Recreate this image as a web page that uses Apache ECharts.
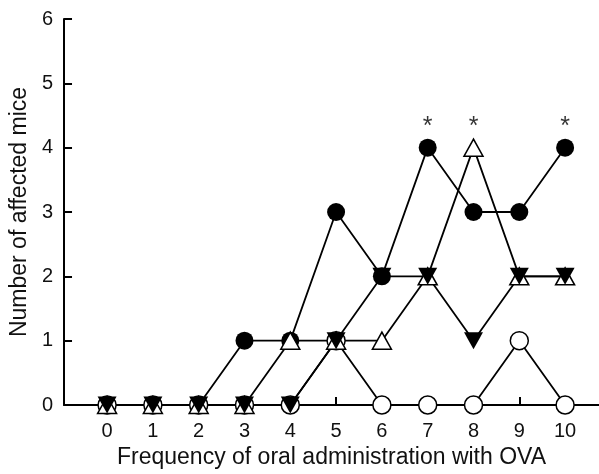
<!DOCTYPE html>
<html>
<head>
<meta charset="utf-8">
<script src="https://cdn.jsdelivr.net/npm/echarts@6/dist/echarts.min.js"></script>
<style>html,body{margin:0;padding:0;background:#fff;}#c{width:599px;height:474px;}</style>
</head>
<body>
<div id="c"></div>
<script>
var categories = [0, 1, 2, 3, 4, 5, 6, 7, 8, 9, 10];
var filledCircle = [0, 0, 0, 1, 1, 3, 2, 4, 3, 3, 4];
var openCircle = [0, 0, 0, 0, 0, 1, 0, 0, 0, 1, 0];
var openTriangle = [0, 0, 0, 0, 1, 1, 1, 2, 4, 2, 2];
var filledInvTriangle = [0, 0, 0, 0, 0, 1, 2, 2, 1, 2, 2];
var yTicks = [0, 1, 2, 3, 4, 5, 6];
var asteriskX = [7, 8, 10];
var asteriskY = 4.4;

function pairs(vals) { return categories.map(function (c, i) { return [c, vals[i]]; }); }

var font = 'Liberation Sans, Arial, sans-serif';
var chart = echarts.init(document.getElementById('c'), null, { renderer: 'canvas' });

function lineSeries(vals, symbol, fill, rotate) {
  return {
    type: 'line',
    data: pairs(vals),
    symbol: symbol,
    symbolSize: symbol === 'triangle' ? [19, 17] : 18,
    symbolRotate: rotate || 0,
    showAllSymbol: true,
    lineStyle: { color: '#000', width: 1.8 },
    itemStyle: { color: fill, borderColor: '#000', borderWidth: fill === '#000' ? 0 : 1.5 },
    emphasis: { disabled: true },
    animation: false
  };
}

chart.setOption({
  animation: false,
  grid: { left: 63, right: 0, top: 19, bottom: 69, containLabel: false },
  xAxis: {
    type: 'value',
    min: -0.94,
    max: 10.74,
    name: 'Frequency of oral administration with OVA',
    nameLocation: 'middle',
    nameGap: 36,
    nameTextStyle: { fontFamily: font, fontSize: 23, color: '#111' },
    axisLine: { onZero: false, lineStyle: { color: '#000', width: 2 } },
    axisTick: { show: true, inside: true, length: 8, lineStyle: { color: '#000', width: 2 }, customValues: categories },
    axisLabel: { fontFamily: font, fontSize: 20, color: '#111', margin: 16, customValues: categories },
    splitLine: { show: false }
  },
  yAxis: {
    type: 'value',
    min: 0,
    max: 6,
    interval: 1,
    name: 'Number of affected mice',
    nameLocation: 'middle',
    nameGap: 25,
    nameTextStyle: { fontFamily: font, fontSize: 23, color: '#111' },
    axisLine: { onZero: false, lineStyle: { color: '#000', width: 2 } },
    axisTick: { show: true, inside: true, length: 8, lineStyle: { color: '#000', width: 2 }, customValues: yTicks },
    axisLabel: { fontFamily: font, fontSize: 20, color: '#111', margin: 11, customValues: yTicks },
    splitLine: { show: false }
  },
  series: [
    lineSeries(filledCircle, 'circle', '#000'),
    lineSeries(openCircle, 'circle', '#fff'),
    lineSeries(openTriangle, 'triangle', '#fff'),
    lineSeries(filledInvTriangle, 'triangle', '#000', 180),
    {
      type: 'scatter',
      data: asteriskX.map(function (x) { return [x, asteriskY]; }),
      symbolSize: 1,
      itemStyle: { color: 'rgba(0,0,0,0)' },
      label: { show: true, position: 'inside', formatter: '*', fontFamily: font, fontSize: 25, color: '#000', offset: [0, 5] },
      emphasis: { disabled: true },
      animation: false
    }
  ]
});
</script>
</body>
</html>
